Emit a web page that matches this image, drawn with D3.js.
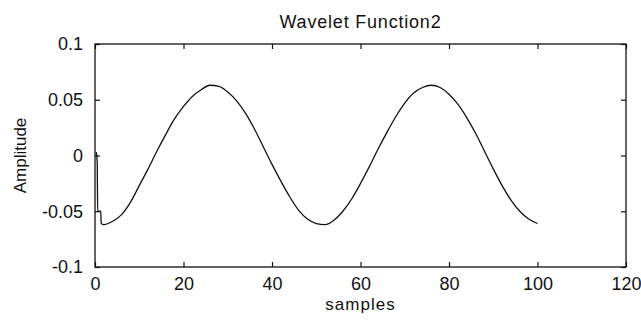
<!DOCTYPE html>
<html>
<head>
<meta charset="utf-8">
<script src="https://cdn.jsdelivr.net/npm/d3@7.9.0/dist/d3.min.js"></script>
<style>
  body { margin: 0; background: #fff; }
  svg { display: block; font-family: "Liberation Sans", Arial, sans-serif; }
</style>
</head>
<body>
<svg id="chart" width="641" height="322"></svg>
<script>
// --- data
const samples = [0.3, 0.5, 0.6, 1.3, 1.4, 2, 4, 6, 8, 10, 12, 14, 16, 18, 20, 22, 24, 26, 28, 30,
  32, 34, 36, 38, 40, 42, 44, 46, 48, 50, 52, 54, 56, 58, 60, 62, 64, 66, 68, 70,
  72, 74, 76, 78, 80, 82, 84, 86, 88, 90, 92, 94, 96, 98, 100];
const amplitude = [0.003, -0.006, -0.05, -0.05, -0.061, -0.062, -0.059, -0.053, -0.042, -0.027,
  -0.012, 0.004, 0.019, 0.033, 0.044, 0.053, 0.059, 0.063, 0.062, 0.057,
  0.049, 0.038, 0.024, 0.008, -0.008, -0.023, -0.037, -0.049, -0.057, -0.061,
  -0.062, -0.058, -0.050, -0.039, -0.025, -0.010, 0.006, 0.021, 0.035, 0.047,
  0.056, 0.061, 0.063, 0.061, 0.055, 0.046, 0.034, 0.020, 0.004, -0.012,
  -0.027, -0.040, -0.050, -0.057, -0.061];
const xTicks = [0, 20, 40, 60, 80, 100, 120];
const yTicks = [-0.1, -0.05, 0, 0.05, 0.1];

const svg = d3.select('#chart');
const m = { left: 95, right: 626, top: 44, bottom: 267 };

const x = d3.scaleLinear().domain([0, 120]).range([m.left, m.right]);
const y = d3.scaleLinear().domain([-0.1, 0.1]).range([m.bottom, m.top]);

const fmtY = d => (d === 0 ? '0' : String(d));

// frame
svg.append('rect')
  .attr('x', m.left).attr('y', m.top)
  .attr('width', m.right - m.left).attr('height', m.bottom - m.top)
  .attr('fill', 'none').attr('stroke', '#111').attr('stroke-width', 1.3);

// axes (ticks inward, on all four sides)
svg.append('g').attr('transform', `translate(0,${m.bottom})`)
  .call(d3.axisBottom(x).tickValues(xTicks).tickSize(-5).tickPadding(10))
  .call(g => g.select('.domain').remove())
  .call(g => g.selectAll('text').attr('font-size', 18).attr('fill', '#111').attr('font-family', null));
svg.append('g').attr('transform', `translate(0,${m.top})`)
  .call(d3.axisTop(x).tickValues(xTicks).tickSize(-5).tickFormat(''))
  .call(g => g.select('.domain').remove());
svg.append('g').attr('transform', `translate(${m.left},0)`)
  .call(d3.axisLeft(y).tickValues(yTicks).tickSize(-5).tickPadding(12).tickFormat(fmtY))
  .call(g => g.select('.domain').remove())
  .call(g => g.selectAll('text').attr('font-size', 18).attr('fill', '#111').attr('font-family', null));
svg.append('g').attr('transform', `translate(${m.right},0)`)
  .call(d3.axisRight(y).tickValues(yTicks).tickSize(-5).tickFormat(''))
  .call(g => g.select('.domain').remove());
svg.selectAll('.tick line').attr('stroke', '#111').attr('stroke-width', 1.2);

// the curve
const pts = samples.map((s, i) => [s, amplitude[i]]);
svg.append('path')
  .datum(pts)
  .attr('fill', 'none').attr('stroke', '#111').attr('stroke-width', 1.3)
  .attr('d', d3.line().x(d => x(d[0])).y(d => y(d[1])).curve(d3.curveMonotoneX));

// labels
svg.append('text')
  .attr('x', (m.left + m.right) / 2).attr('y', 28)
  .attr('text-anchor', 'middle').attr('font-size', 18).attr('letter-spacing', 0.8)
  .attr('fill', '#111').text('Wavelet Function2');
svg.append('text')
  .attr('x', (m.left + m.right) / 2).attr('y', 310)
  .attr('text-anchor', 'middle').attr('font-size', 17).attr('letter-spacing', 1)
  .attr('fill', '#111').text('samples');
svg.append('text')
  .attr('transform', `translate(26,${(m.top + m.bottom) / 2}) rotate(-90)`)
  .attr('text-anchor', 'middle').attr('font-size', 17)
  .attr('fill', '#111').text('Amplitude');
</script>
</body>
</html>
